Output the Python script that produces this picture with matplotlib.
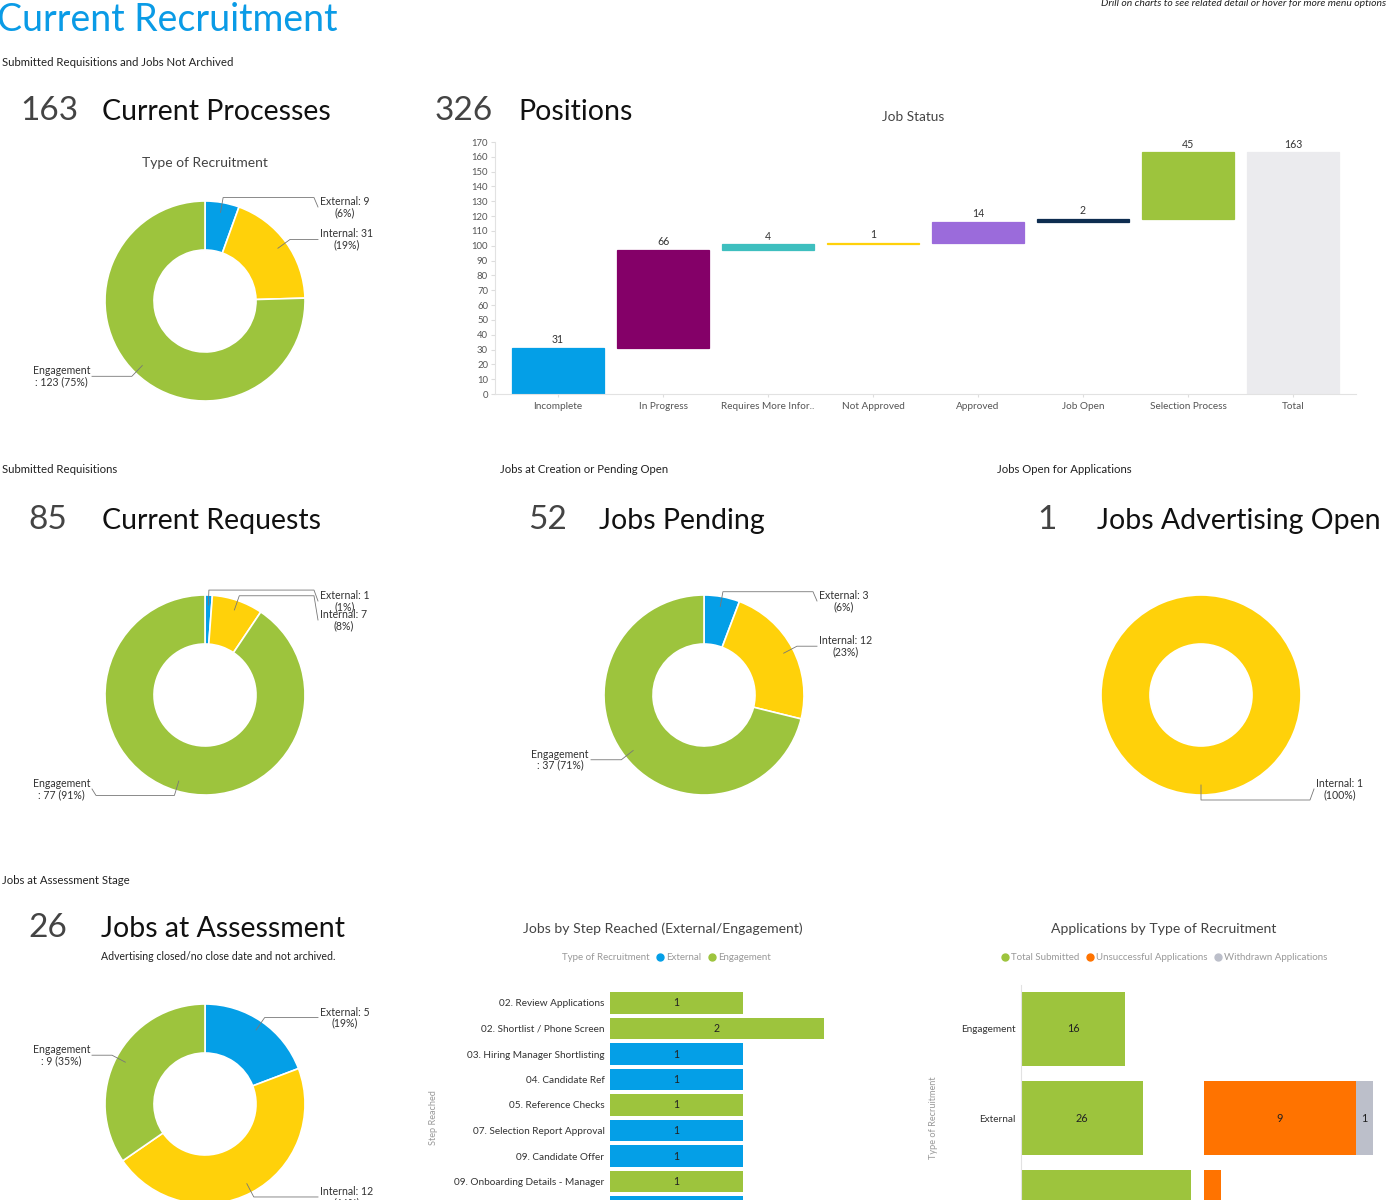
import matplotlib
matplotlib.use("Agg")
import matplotlib.pyplot as plt
from matplotlib.lines import Line2D
import numpy as np

plt.rcParams['font.family'] = ['Lato', 'DejaVu Sans']

W, H = 1400, 1200
fig = plt.figure(figsize=(14, 12), dpi=100)

BLUE = '#049fe7'
YELLOW = '#ffd10a'
GREEN = '#9dc43d'
ORANGE = '#ff7300'
GREY = '#bcbfca'

# ---- data ----
donut_names = ['External', 'Internal', 'Engagement']
donut_colors = [BLUE, YELLOW, GREEN]
processes_vals = [9, 31, 123]
requests_vals = [1, 7, 77]
pending_vals = [3, 12, 37]
advertising_names = ['Internal']
advertising_vals = [1]
assessment_vals = [5, 12, 9]

status_cats = ['Incomplete', 'In Progress', 'Requires More Infor..', 'Not Approved',
               'Approved', 'Job Open', 'Selection Process', 'Total']
status_vals = [31, 66, 4, 1, 14, 2, 45, 163]
status_colors = [BLUE, '#840068', '#3ebfbf', YELLOW, '#9b6bdb', '#0e2d50', GREEN, '#ebebee']

steps = ['02. Review Applications', '02. Shortlist / Phone Screen',
         '03. Hiring Manager Shortlisting', '04. Candidate Ref', '05. Reference Checks',
         '07. Selection Report Approval', '09. Candidate Offer',
         '09. Onboarding Details - Manager', '']
step_vals = [1, 2, 1, 1, 1, 1, 1, 1, 1]
step_type = ['Engagement', 'Engagement', 'External', 'External', 'Engagement',
             'External', 'External', 'Engagement', 'External']
STEP_MIN = -0.64

app_types = ['Engagement', 'External', 'Internal']
app_submitted = [16, 26, 52]
app_unsuccessful = [0, 9, 1]
app_withdrawn = [0, 1, 0]
APP_MIN = -40.8


def px_axes(x0, y0, x1, y1):
    return fig.add_axes([x0 / W, 1 - y1 / H, (x1 - x0) / W, (y1 - y0) / H])


def ftext(x, y, s, **kw):
    return fig.text(x / W, 1 - y / H, s, **kw)


# ---- headings ----
ftext(-3, 31, 'Current Recruitment', fontsize=27, color='#0a9be6', va='baseline')
ftext(1101, 4, 'Drill on charts to see related detail or hover for more menu options',
      fontsize=7.5, style='italic', color='#222', va='center')

for hx, hy, ht in [(2, 62, 'Submitted Requisitions and Jobs Not Archived'),
                   (2, 470, 'Submitted Requisitions'),
                   (500, 470, 'Jobs at Creation or Pending Open'),
                   (997, 470, 'Jobs Open for Applications'),
                   (2, 880, 'Jobs at Assessment Stage')]:
    ftext(hx, hy, ht, fontsize=8.2, color='#222', va='center')


def kpi(xn, xl, y, num, label):
    ftext(xn, y, num, fontsize=24, color='#444', va='baseline')
    ftext(xl, y, label, fontsize=20.5, color='#111', va='baseline')


kpi(20, 102, 120, '163', 'Current Processes')
kpi(435, 518, 120, '326', 'Positions')
kpi(28, 102, 529, '85', 'Current Requests')
kpi(528, 599, 529, '52', 'Jobs Pending')
kpi(1037, 1097, 529, '1', 'Jobs Advertising Open')
kpi(28, 101, 937, '26', 'Jobs at Assessment')
ftext(101, 956, 'Advertising closed/no close date and not archived.', fontsize=7.6, color='#222',
      va='center')


# ---- donuts ----
def donut(cx, cy, names, vals, colors, title=None):
    R = 100.0
    x0, x1, y0, y1 = cx - 200, cx + 200, cy - 130, cy + 130
    ax = px_axes(x0, y0, x1, y1)
    ax.pie(vals, colors=colors, startangle=90, counterclock=False, radius=1,
           wedgeprops=dict(width=0.49, edgecolor='white', linewidth=1.2))
    ax.set_aspect('auto')
    ax.set_xlim((x0 - cx) / R, (x1 - cx) / R)
    ax.set_ylim((cy - y1) / R, (cy - y0) / R)
    ax.axis('off')

    total = sum(vals)
    start = 0
    right, left = [], []
    for n, v in zip(names, vals):
        th = np.radians(90 - (start + v / 2) / total * 360)
        start += v
        c, s = np.cos(th), np.sin(th)
        p = round(100 * v / total)
        if c >= -1e-9:
            right.append((c, s, f'{n}: {v}\n({p}%)'))
        else:
            left.append((c, s, f'{n}\n: {v} ({p}%)'))

    for side, items in ((1, right), (-1, left)):
        items.sort(key=lambda t: -t[1])
        prev = None
        for c, s, txt in items:
            ly = float(np.clip(1.05 * s, -0.94, 0.94))
            if prev is not None:
                ly = min(ly, prev - 0.19)
            prev = ly
            ax.plot([0.9 * c, 1.05 * c, side * 1.09, side * 1.13],
                    [0.9 * s, 1.05 * s, 1.05 * s, ly], color='#777', lw=0.6)
            ax.text(side * 1.15, ly, txt, ha='left' if side > 0 else 'right', va='center',
                    multialignment='center', fontsize=7.6, color='#333', linespacing=1.0)
    if title:
        ftext(cx, cy - 138, title, fontsize=10, color='#444', ha='center', va='center')


donut(205, 301, donut_names, processes_vals, donut_colors, 'Type of Recruitment')
donut(205, 695, donut_names, requests_vals, donut_colors)
donut(704, 695, donut_names, pending_vals, donut_colors)
donut(1201, 695, advertising_names, advertising_vals, [YELLOW])
donut(205, 1104, donut_names, assessment_vals, donut_colors)

# ---- waterfall: Job Status ----
ftext(913, 117, 'Job Status', fontsize=9.8, color='#444', ha='center', va='center')
ax = px_axes(495, 142, 1356, 394)
x = np.arange(len(status_cats))
bottoms = list(np.cumsum([0] + status_vals[:-2])) + [0]
ax.bar(x, status_vals, bottom=bottoms, width=0.876, color=status_colors,
       edgecolor=status_colors, linewidth=0.9)
for i, (b, v) in enumerate(zip(bottoms, status_vals)):
    ax.annotate(str(v), (i, b + v), xytext=(0, 2), textcoords='offset points',
                ha='center', va='bottom', fontsize=7.6, color='#333', annotation_clip=False)
ax.set_xlim(-0.6, 7.6)
ax.set_ylim(0, 170)
ax.set_yticks(range(0, 171, 10))
ax.set_xticks(x, status_cats)
ax.tick_params(axis='y', labelsize=6.8, labelcolor='#555', length=3, color='#ddd', pad=2)
ax.tick_params(axis='x', labelsize=7.2, labelcolor='#555', length=2, color='#ddd', pad=4)
for sp in ('top', 'right'):
    ax.spines[sp].set_visible(False)
for sp in ('left', 'bottom'):
    ax.spines[sp].set_color('#e2e2e2')
    ax.spines[sp].set_linewidth(0.8)

# ---- Jobs by Step Reached ----
ftext(663, 929, 'Jobs by Step Reached (External/Engagement)', fontsize=10.1, color='#444',
      ha='center', va='center')
ftext(650, 958, 'Type of Recruitment', fontsize=7, color='#999', ha='right', va='center')
h2 = [Line2D([], [], marker='o', ls='', color=c, markersize=5) for c in (BLUE, GREEN)]
fig.legend(h2, ['External', 'Engagement'], loc='center', bbox_to_anchor=(713 / W, 1 - 958 / H),
           ncol=2, frameon=False, fontsize=7, labelcolor='#999', handletextpad=0.1,
           columnspacing=0.6, handlelength=1.0, borderpad=0)

ax2 = px_axes(610, 990.25, 900, 990.25 + len(steps) * 25.5)
y2 = np.arange(len(steps))
cols2 = [BLUE if t == 'External' else GREEN for t in step_type]
ax2.barh(y2, np.array(step_vals) - STEP_MIN, left=STEP_MIN, height=0.86, color=cols2)
for i, v in enumerate(step_vals):
    if steps[i]:
        ax2.text((STEP_MIN + v) / 2, i, str(v), ha='center', va='center', fontsize=7.6,
                 color='#222')
ax2.set_xlim(STEP_MIN, STEP_MIN + 290 / 81)
ax2.set_ylim(len(steps) - 0.5, -0.5)
ax2.set_xticks([])
ax2.set_yticks(y2, steps)
ax2.tick_params(axis='y', labelsize=7.2, labelcolor='#333', length=0, pad=4)
for sp in ax2.spines.values():
    sp.set_visible(False)
ftext(433, 1118, 'Step Reached', fontsize=6.6, color='#999', rotation=90, ha='center', va='center')

# ---- Applications by Type of Recruitment ----
ftext(1164, 929, 'Applications by Type of Recruitment', fontsize=10.1, color='#444',
      ha='center', va='center')
h3 = [Line2D([], [], marker='o', ls='', color=c, markersize=5) for c in (GREEN, ORANGE, GREY)]
fig.legend(h3, ['Total Submitted', 'Unsuccessful Applications', 'Withdrawn Applications'],
           loc='center', bbox_to_anchor=(1164 / W, 1 - 958 / H), ncol=3, frameon=False,
           fontsize=7, labelcolor='#999', handletextpad=0.1, columnspacing=0.6,
           handlelength=1.0, borderpad=0)

top3 = 1029 - 44.5
ax3 = px_axes(1021, top3, 1196, top3 + len(app_types) * 89)
y3 = np.arange(len(app_types))
ax3.barh(y3, np.array(app_submitted) - APP_MIN, left=APP_MIN, height=0.84, color=GREEN)
for i, v in enumerate(app_submitted):
    ax3.text((APP_MIN + v) / 2, i, str(v), ha='center', va='center', fontsize=7.8, color='#222')
ax3.set_xlim(APP_MIN, APP_MIN + 175 / 1.83)
ax3.set_ylim(len(app_types) - 0.5, -0.5)
ax3.set_xticks([])
ax3.set_yticks(y3, app_types)
ax3.tick_params(axis='y', labelsize=7.2, labelcolor='#333', length=0, pad=4)
for sp in ('top', 'right', 'bottom'):
    ax3.spines[sp].set_visible(False)
ax3.spines['left'].set_color('#e2e2e2')

ax4 = px_axes(1204, top3, 1400, top3 + len(app_types) * 89)
uns = np.array(app_unsuccessful)
wd = np.array(app_withdrawn)
ax4.barh(y3, uns, height=0.84, color=ORANGE)
ax4.barh(y3, wd, left=uns, height=0.84, color=GREY)
for i in range(len(app_types)):
    if uns[i] > 1:
        ax4.text(uns[i] / 2, i, str(uns[i]), ha='center', va='center', fontsize=7.8, color='#222')
    if wd[i] > 0:
        ax4.text(uns[i] + wd[i] / 2, i, str(wd[i]), ha='center', va='center', fontsize=7.8,
                 color='#222')
ax4.set_xlim(0, 196 / 16.9)
ax4.set_ylim(len(app_types) - 0.5, -0.5)
ax4.axis('off')
ftext(933, 1118, 'Type of Recruitment', fontsize=6.6, color='#999', rotation=90, ha='center',
      va='center')

fig.savefig('out.png', dpi=100)
